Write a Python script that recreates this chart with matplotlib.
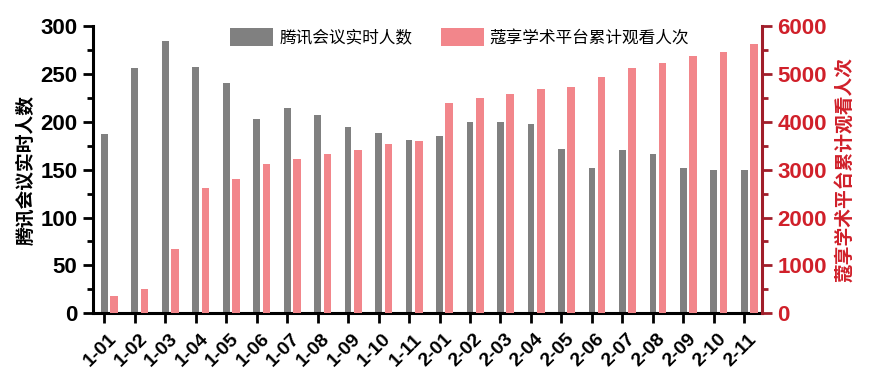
import matplotlib
matplotlib.use("Agg")
import matplotlib.pyplot as plt
import matplotlib.transforms as mtransforms
from matplotlib.ticker import MultipleLocator
import numpy as np

plt.rcParams['font.family'] = ['Liberation Sans', 'Noto Sans CJK SC', 'DejaVu Sans']

categories = ["1-01", "1-02", "1-03", "1-04", "1-05", "1-06", "1-07", "1-08", "1-09", "1-10", "1-11",
              "2-01", "2-02", "2-03", "2-04", "2-05", "2-06", "2-07", "2-08", "2-09", "2-10", "2-11"]
tencent = [187, 256, 284, 257, 240, 203, 214, 207, 195, 188, 181,
           185, 200, 200, 198, 172, 152, 170, 166, 152, 150, 150]
koushare = [370, 510, 1350, 2620, 2800, 3120, 3220, 3330, 3410, 3535, 3600,
            4390, 4500, 4580, 4680, 4720, 4930, 5120, 5230, 5370, 5460, 5620]

label_left = "腾讯会议实时人数"
label_right = "蔻享学术平台累计观看人次"

gray = "#808080"
pink = "#F2868B"
red_lbl = "#D0202A"
red_spine = "#A01E2A"

fig = plt.figure(figsize=(8.7, 3.76), dpi=100)
ax = fig.add_axes([92.7/870, 1-313.3/376, (762.3-92.7)/870, (313.3-26)/376])
ax2 = ax.twinx()

x = np.arange(len(categories))
b1 = ax.bar(x, tencent, width=0.22, color=gray, label=label_left, zorder=2)
b2 = ax2.bar(x + 0.32, koushare, width=0.25, color=pink, label=label_right, zorder=2)

ax.set_xlim(-0.38, len(categories) - 1 + 0.59)
ax.set_ylim(0, 300)
ax2.set_ylim(0, 6000)

ax.yaxis.set_major_locator(MultipleLocator(50))
ax.yaxis.set_minor_locator(MultipleLocator(25))
ax2.yaxis.set_major_locator(MultipleLocator(1000))
ax2.yaxis.set_minor_locator(MultipleLocator(500))

ax.tick_params(axis='y', which='major', direction='out', length=7, width=2, pad=4)
ax.tick_params(axis='y', which='minor', direction='out', length=4.5, width=2)
ax.tick_params(axis='x', which='major', direction='out', length=7.5, width=2, pad=0)
ax2.tick_params(axis='y', which='major', direction='out', length=7, width=2, color=red_spine, pad=4)
ax2.tick_params(axis='y', which='minor', direction='out', length=4.5, width=2, color=red_spine)

ax.set_xticks(x)
ax.set_xticklabels(categories, rotation=45, ha='right', va='center', rotation_mode='anchor',
                   fontsize=14, fontweight='bold')
offset = mtransforms.ScaledTranslation(0.10, -0.13, fig.dpi_scale_trans)
for lab in ax.get_xticklabels():
    lab.set_transform(lab.get_transform() + offset)

for lab in ax.get_yticklabels():
    lab.set_fontweight('bold')
    lab.set_fontsize(16)
for lab in ax2.get_yticklabels():
    lab.set_fontweight('bold')
    lab.set_fontsize(16)
    lab.set_color(red_lbl)

ax.spines['top'].set_visible(False)
ax2.spines['top'].set_visible(False)
ax.spines['right'].set_visible(False)
ax2.spines['left'].set_visible(False)
ax2.spines['bottom'].set_visible(False)
ax.spines['left'].set_linewidth(2.2)
ax.spines['bottom'].set_linewidth(2.2)
ax2.spines['right'].set_linewidth(2.2)
ax2.spines['right'].set_color(red_spine)

ax.set_ylabel(label_left, fontsize=13.5, fontweight='bold', family=['Noto Sans CJK SC'], labelpad=4)
ax2.set_ylabel(label_right, fontsize=13.5, fontweight='bold', family=['Noto Sans CJK SC'],
               color=red_lbl, labelpad=6)

leg = ax.legend([b1, b2], [label_left, label_right], loc='upper center',
                bbox_to_anchor=(0.548, 1.045), ncol=2, frameon=False,
                prop={'family': 'Noto Sans CJK SC', 'size': 12},
                handlelength=2.6, handleheight=1.3, columnspacing=1.7, handletextpad=0.35)

fig.savefig("out.png", dpi=100)
